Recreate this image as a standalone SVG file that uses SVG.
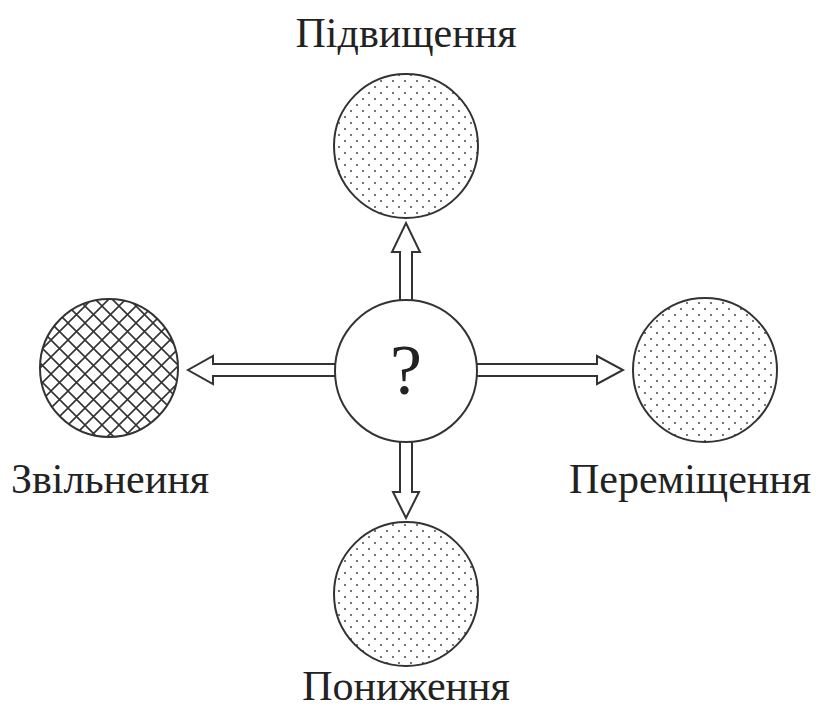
<svg xmlns="http://www.w3.org/2000/svg" width="816" height="716" viewBox="0 0 816 716">
<defs>
<pattern id="dots" patternUnits="userSpaceOnUse" width="12" height="12">
<circle cx="3" cy="3" r="1.1" fill="#555"/>
<circle cx="9" cy="9" r="1.1" fill="#555"/>
</pattern>
<pattern id="hatch" patternUnits="userSpaceOnUse" width="17" height="17">
<path d="M-2,2 L2,-2 M0,17 L17,0 M15,19 L19,15 M-2,15 L2,19 M0,0 L17,17 M15,-2 L19,2" stroke="#333" stroke-width="1.6" fill="none"/>
</pattern>
<style>
.c{stroke:#333;stroke-width:2}
.a{fill:#fff;stroke:#333;stroke-width:2;stroke-linejoin:miter}
.t{font-family:"Liberation Serif","Times New Roman",serif;font-size:42px;fill:#222;text-anchor:middle}
</style>
</defs>
<g id="connectors">
<polygon class="a" points="400,301 400,252 392,252 406,223 420,252 412,252 412,301"/>
<polygon class="a" points="400,441 400,492 393,492 406,518 419,492 412,492 412,441"/>
<polygon class="a" points="336,364 213,364 213,356 188,370 213,384 213,376 336,376"/>
<polygon class="a" points="476,364 597,364 597,356 623,370 597,384 597,376 476,376"/>
</g>
<g id="center">
<circle class="c" cx="406" cy="371" r="71" fill="#fff"/>
<text class="t" x="406" y="394" style="font-size:72px">?</text>
</g>
<g id="top">
<circle class="c" cx="406" cy="146" r="72" fill="url(#dots)"/>
<text class="t" x="406" y="47">Підвищення</text>
</g>
<g id="left">
<circle class="c" cx="109" cy="368" r="69" fill="url(#hatch)"/>
<text class="t" x="110" y="493">Звільнеиня</text>
</g>
<g id="right">
<circle class="c" cx="705" cy="370" r="72" fill="url(#dots)"/>
<text class="t" x="690" y="493">Переміщення</text>
</g>
<g id="bottom">
<circle class="c" cx="406" cy="594" r="72" fill="url(#dots)"/>
<text class="t" x="406" y="700">Пониження</text>
</g>
</svg>
